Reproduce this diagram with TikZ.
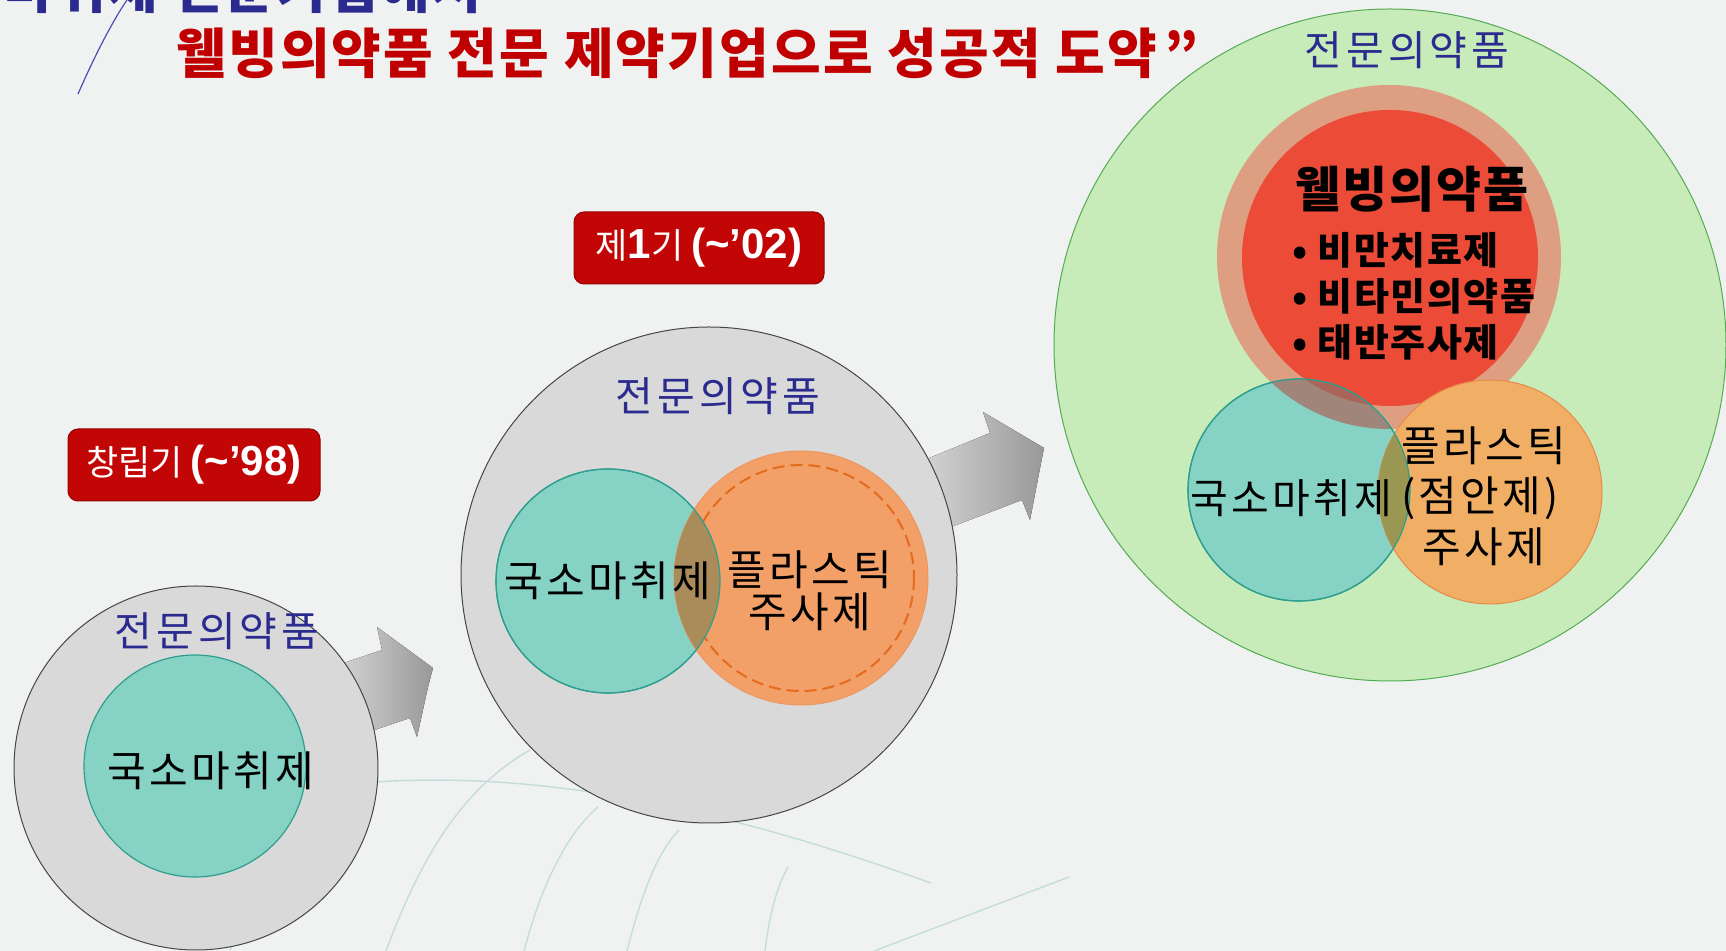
\documentclass[tikz,border=0pt]{standalone}
\usepackage{fontspec}
\setmainfont{Noto Sans CJK KR}
\newfontfamily\latinfont{Liberation Sans}
\definecolor{paper}{HTML}{F0F2F1}
\definecolor{navy}{HTML}{2B2B8F}
\definecolor{titlered}{HTML}{C00000}
\definecolor{tagred}{HTML}{C20606}
\definecolor{stagegray}{HTML}{D9D9D9}
\definecolor{tealfill}{HTML}{86D2C4}
\definecolor{tealline}{HTML}{2E9E8E}
\definecolor{orangefill}{HTML}{F2A068}
\definecolor{orangeline}{HTML}{E46A1E}
\definecolor{goldfill}{HTML}{F0AF64}
\definecolor{leafgreen}{HTML}{C7EBB9}
\definecolor{halofill}{HTML}{DE9E82}
\definecolor{redfill}{HTML}{EB4B37}
\definecolor{olive}{HTML}{AA8C5A}
\definecolor{rust}{HTML}{AA645A}
\definecolor{veincol}{HTML}{C4DCDC}

\begin{document}
\begin{tikzpicture}[x=0.5pt,y=-0.5pt]
	 \tikzstyle{stage}=[circle,draw=gray!55!black,fill=stagegray,line width=0.5pt,inner sep=0pt]
	 \tikzstyle{teal dot}=[circle,draw=tealline,fill=tealfill,line width=0.6pt,inner sep=0pt]
	 \tikzstyle{orange dot}=[circle,draw=orangeline!70,fill=orangefill,line width=0.5pt,inner sep=0pt]
	 \tikzstyle{stage tag}=[rounded corners=5pt,draw=tagred!75!black,line width=0.5pt,fill=tagred,text=white,minimum width=126pt,minimum height=36pt,font=\fontsize{17.5pt}{20pt}\selectfont]
	 \tikzstyle{navy label}=[text=navy,inner sep=0pt,font=\fontsize{20.5pt}{24pt}\selectfont\addfontfeature{LetterSpace=10}]
	 \tikzstyle{black label}=[text=black,inner sep=0pt,font=\fontsize{21pt}{24pt}\selectfont\addfontfeature{LetterSpace=8}]
	 \tikzstyle{bullet label}=[anchor=west,text=black,inner sep=0pt,font=\bfseries\fontsize{19pt}{22pt}\selectfont\addfontfeature{LetterSpace=4}]
	 \tikzstyle{heading}=[inner sep=0pt,font=\bfseries\fontsize{27pt}{30pt}\selectfont\addfontfeature{LetterSpace=4}]
	 \tikzstyle{arrow body}=[left color=gray!25,right color=gray!85!black!70]
	 \tikzstyle{vein}=[draw=veincol,line width=0.7pt]
	 \fill[paper] (0,0) rectangle (1726,951);
	 \useasboundingbox (0,0) rectangle (1726,951);
	 \clip (0,0) rectangle (1726,951);
	 \draw[vein] (386,951) .. controls (420,860) and (460,790) .. (530,750);
	 \draw[vein] (524,951) .. controls (540,890) and (565,835) .. (598,807);
	 \draw[vein] (627,951) .. controls (640,900) and (655,855) .. (679,830);
	 \draw[vein] (765,951) .. controls (770,910) and (778,885) .. (788,867);
	 \draw[vein] (874,951) -- (1069,877);
	 \draw[vein] (300,790) .. controls (500,760) and (700,800) .. (931,883);
	 \draw[vein] (230,951) .. controls (250,880) and (290,820) .. (340,790);
	 \draw[draw=gray!60!blue,line width=0.6pt] (78,94) .. controls (92,62) and (110,25) .. (127,0);
	 \node[heading,anchor=base east,text=navy] (oldtitle) at (482,9) {“국소마취제 전문기업에서};
	 \node[heading,anchor=base west,text=titlered] (title) at (176,74) {웰빙의약품 전문 제약기업으로 성공적 도약\hspace{4pt}”};
	 \fill[arrow body] (320,671) -- (382,650) -- (377,627) -- (433,668) -- (428,687) -- (417,737) -- (410,718) -- (345,740) -- cycle;
	 \fill[arrow body] (900,470) -- (990,433) -- (983,412) -- (1044,448) -- (1042,458) -- (1030,520) -- (1022,500) -- (930,535) -- cycle;
	 \node[stage,minimum size=182pt] (early) at (196,768) {};
	 \node[teal dot,minimum size=111pt] (earlyA) at (195,766) {};
	 \node[navy label] (earlyName) at (217,631) {전문의약품};
	 \node[black label] (earlyAText) at (211,771) {국소마취제};
	 \node[stage tag] (earlyTag) at (194,465) {창립기 {\latinfont\bfseries\fontsize{21pt}{22pt}\selectfont(\textasciitilde’98)}};
	 \node[stage,minimum size=248pt] (first) at (709,575) {};
	 \node[teal dot,minimum size=112pt] (firstA) at (608,581) {};
	 \node[orange dot,minimum size=127pt] (firstB) at (801,578) {};
	 \draw[orangeline,line width=1pt,dash pattern=on 6pt off 3pt] (firstB.center) circle (113);
	 \begin{scope}
	 \clip (firstA.center) circle (112);
	 \fill[olive] (firstB.center) circle (127);
	 \end{scope}
	 \draw[tealline,line width=0.6pt] (firstA.center) circle (112);
	 \node[navy label] (firstName) at (718,396) {전문의약품};
	 \node[black label] (firstAText) at (608,581) {국소마취제};
	 \node[black label] (firstBText) at (810,570) {플라스틱};
	 \node[black label] (firstBText2) at (810,612) {주사제};
	 \node[stage tag,minimum width=125pt] (firstTag) at (699,248) {제{\latinfont\bfseries\fontsize{21pt}{22pt}\selectfont 1}기 {\latinfont\bfseries\fontsize{21pt}{22pt}\selectfont(\textasciitilde’02)}};
	 \node[circle,draw=green!35!gray,fill=leafgreen,line width=0.5pt,inner sep=0pt,minimum size=336pt] (second) at (1390,345) {};
	 \node[circle,fill=halofill,inner sep=0pt,minimum size=172pt] (secondHalo) at (1389,257) {};
	 \node[circle,fill=redfill,inner sep=0pt,minimum size=148pt] (secondC) at (1390,258) {};
	 \node[teal dot,minimum size=111pt] (secondA) at (1299,490) {};
	 \begin{scope}
	 \clip (secondA.center) circle (111);
	 \fill[rust!70!tealfill] (secondHalo.center) circle (172);
	 \fill[rust] (secondC.center) circle (148);
	 \end{scope}
	 \node[circle,draw=orangeline!80,fill=goldfill,line width=0.5pt,inner sep=0pt,minimum size=112pt] (secondB) at (1490,492) {};
	 \begin{scope}
	 \clip (secondA.center) circle (111);
	 \fill[olive!90!green] (secondB.center) circle (112);
	 \end{scope}
	 \draw[tealline,line width=0.6pt] (secondA.center) circle (111);
	 \node[navy label] (secondName) at (1407,50) {전문의약품};
	 \node[text=black,inner sep=0pt,font=\bfseries\fontsize{24.5pt}{26pt}\selectfont\addfontfeature{LetterSpace=4}] (wellText) at (1412,189) {웰빙의약품};
	 \node[bullet label] (well1) at (1292,250) {• 비만치료제};
	 \node[bullet label] (well2) at (1292,296) {• 비타민의약품};
	 \node[bullet label] (well3) at (1292,342) {• 태반주사제};
	 \node[black label,font=\fontsize{20.5pt}{24pt}\selectfont\addfontfeature{LetterSpace=8}] (secondAText) at (1291,498) {국소마취제};
	 \node[black label] (secondBText) at (1484,446) {플라스틱};
	 \node[black label] (secondBText2) at (1480,498) {(점안제)};
	 \node[black label] (secondBText3) at (1484,547) {주사제};
\end{tikzpicture}
\end{document}
